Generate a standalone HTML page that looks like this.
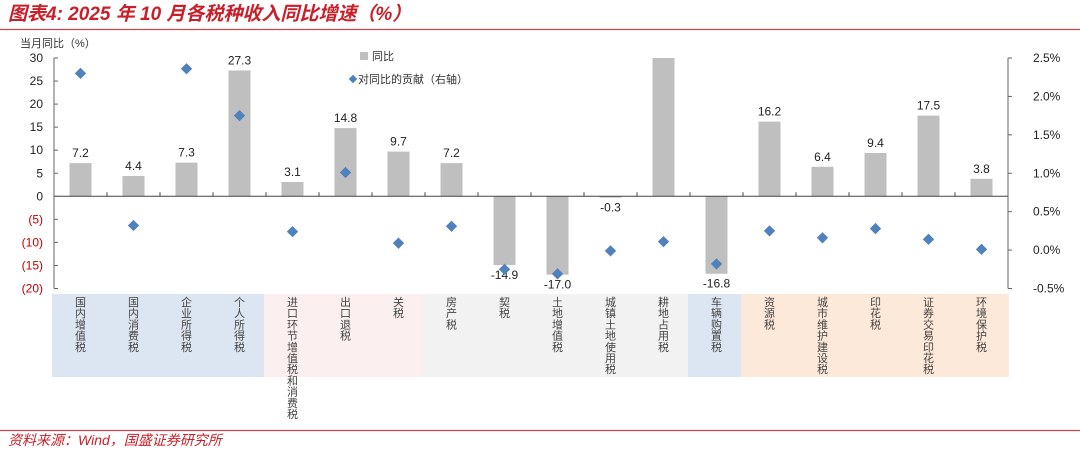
<!DOCTYPE html>
<html><head><meta charset="utf-8"><style>
body{margin:0;background:#fff;}
svg text{font-family:"Liberation Sans","Noto Sans CJK SC",sans-serif;}
</style></head><body>
<svg width="1080" height="451" viewBox="0 0 1080 451" xmlns="http://www.w3.org/2000/svg">
<text x="8" y="20" font-size="19" font-weight="bold" font-style="italic" fill="#c8202a">图表4:  2025 年 10 月各税种收入同比增速（%）</text>
<line x1="0" y1="29.5" x2="1080" y2="29.5" stroke="#d0474f" stroke-width="1.2"/>
<g id="groups"></g>
<g id="plot"></g>
<text x="20" y="47" font-size="11" fill="#333">当月同比（%）</text>
<rect x="360" y="52" width="8" height="8" fill="#bfbfbf"/>
<text x="372" y="60" font-size="11" fill="#333">同比</text>
<rect x="350" y="76" width="6" height="6" fill="#4f81bd" transform="rotate(45 353 79)"/>
<text x="358" y="83" font-size="11" fill="#333">对同比的贡献（右轴）</text>
<line x1="0" y1="430.5" x2="1080" y2="430.5" stroke="#d0474f" stroke-width="1.2"/>
<text x="8" y="445" font-size="14" font-style="italic" fill="#c8202a">资料来源：Wind，国盛证券研究所</text>
</svg>
<script>
const categories=["国内增值税","国内消费税","企业所得税","个人所得税","进口环节增值税和消费税","出口退税","关税","房产税","契税","土地增值税","城镇土地使用税","耕地占用税","车辆购置税","资源税","城市维护建设税","印花税","证券交易印花税","环境保护税"];
const yoyValues=[7.2,4.4,7.3,27.3,3.1,14.8,9.7,7.2,-14.9,-17.0,-0.3,35,-16.8,16.2,6.4,9.4,17.5,3.8];
const yoyLabels=["7.2","4.4","7.3","27.3","3.1","14.8","9.7","7.2","-14.9","-17.0","-0.3","","-16.8","16.2","6.4","9.4","17.5","3.8"];
const contribValues=[2.30,0.32,2.36,1.75,0.24,1.01,0.09,0.31,-0.25,-0.31,-0.01,0.11,-0.18,0.25,0.16,0.28,0.14,0.01];
const leftTicks=[30,25,20,15,10,5,0,-5,-10,-15,-20];
const rightTicks=[2.5,2.0,1.5,1.0,0.5,0.0,-0.5];
const groupSpans=[[0,3,"#dce6f2"],[4,6,"#fbf0ef"],[7,11,"#f2f2f2"],[12,12,"#dce6f2"],[13,17,"#fde9d9"]];

const NS="http://www.w3.org/2000/svg";
const X0=54,X1=1008,TOP=58,BOT=288.5;
const bw=(X1-X0)/categories.length;
const yL=v=>TOP+(30-Math.max(-20,Math.min(30,v)))/50*(BOT-TOP);
const yR=v=>TOP+(2.5-v)/3*(BOT-TOP);
const xc=i=>X0+bw*(i+0.5);
function mk(tag,attrs,parent){const e=document.createElementNS(NS,tag);for(const k in attrs)e.setAttribute(k,attrs[k]);parent.appendChild(e);return e;}
const plot=document.getElementById('plot'),groups=document.getElementById('groups');

groupSpans.forEach(g=>{
  const r=mk('rect',{x:X0+bw*g[0]-2,y:294,width:bw*(g[1]-g[0]+1)+(g[1]===17?3:0),height:83,fill:g[2]},groups);
  
  
});
categories.forEach((c,i)=>{
  const t=mk('text',{'font-size':11,fill:'#444','text-anchor':'middle'},groups);
  
  
  [...c].forEach((ch,k)=>{const s=mk('tspan',{x:xc(i),y:306+k*11.2},t);s.textContent=ch;});
});

// bars
yoyValues.forEach((v,i)=>{
  const y0=yL(0),y1=yL(v);
  const r=mk('rect',{x:xc(i)-11,y:Math.min(y0,y1),width:22,height:Math.abs(y1-y0),fill:'#bfbfbf'},plot);
  
  
  if(yoyLabels[i]){
    const t=mk('text',{x:xc(i),y:v>=0?y1-6:y1+14,'font-size':12,fill:'#222','text-anchor':'middle'},plot);
    
    
    t.textContent=yoyLabels[i];
  }
});
// axes
let a=mk('line',{x1:X0,y1:TOP,x2:X0,y2:BOT,stroke:'#666'},plot);

a=mk('line',{x1:X1,y1:TOP,x2:X1,y2:BOT,stroke:'#666'},plot);

a=mk('line',{x1:X0,y1:yL(0),x2:X1,y2:yL(0),stroke:'#444'},plot);

for(let i=1;i<categories.length;i++){const tk=mk('line',{x1:X0+bw*i,y1:yL(0),x2:X0+bw*i,y2:yL(0)-4,stroke:'#444'},plot);
}
leftTicks.forEach(v=>{
  const y=yL(v);
  const tk=mk('line',{x1:X0,y1:y,x2:X0+4,y2:y,stroke:'#666'},plot);
  
  const t=mk('text',{x:43,y:y+4,'font-size':12,fill:v<0?'#c00000':'#222','text-anchor':'end'},plot);
  
  t.textContent=v<0?'('+(-v)+')':String(v);
});
rightTicks.forEach(v=>{
  const y=yR(v);
  const tk=mk('line',{x1:X1,y1:y,x2:X1+4,y2:y,stroke:'#666'},plot);
  
  const t=mk('text',{x:1033,y:y+4,'font-size':12,fill:'#222'},plot);
  
  t.textContent=v.toFixed(1)+'%';
});
// diamonds
contribValues.forEach((v,i)=>{
  const cx=xc(i),cy=yR(v);
  const d=mk('rect',{x:cx-4,y:cy-4,width:8,height:8,fill:'#4f81bd',transform:`rotate(45 ${cx} ${cy})`},plot);
  
  
});
</script>
</body></html>
